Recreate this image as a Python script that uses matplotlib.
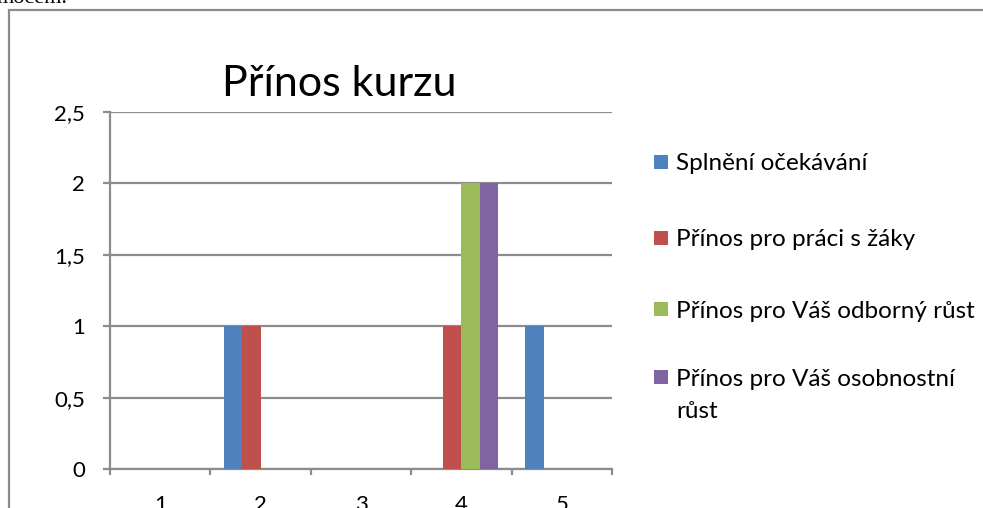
import matplotlib
matplotlib.use("Agg")
import matplotlib.pyplot as plt
import numpy as np
from matplotlib.patches import Rectangle

categories = ["1", "2", "3", "4", "5"]
series_names = ["Splnění očekávání", "Přínos pro práci s žáky",
                "Přínos pro Váš odborný růst", "Přínos pro Váš osobnostní\nrůst"]
s_splneni = [0, 1, 0, 0, 1]
s_prace = [0, 1, 0, 1, 0]
s_odborny = [0, 0, 0, 2, 0]
s_osobnostni = [0, 0, 0, 2, 0]
colors = ["#4F81BD", "#C0504D", "#9BBB59", "#8064A2"]
y_ticks = [0, 0.5, 1, 1.5, 2, 2.5]
y_labels = ["0", "0,5", "1", "1,5", "2", "2,5"]
title = "Přínos kurzu"

W, H = 983, 508
FONT = "Lato"
plt.rcParams['font.family'] = [FONT, 'DejaVu Sans']

fig = plt.figure(figsize=(W / 100, H / 100), dpi=100)

def fx(x):
    return x / W

def fy(y):
    return 1 - y / H

# chart frame
fig.patches.append(Rectangle((fx(9), fy(600)), 2, fy(10) - fy(600), transform=fig.transFigure,
                             fill=False, edgecolor="#8c8c8c", linewidth=1.6))
# cropped text above
fig.text(fx(-3), fy(3), "mocem.", family="Liberation Serif", fontsize=16, va="baseline", ha="left")

ax = fig.add_axes([fx(110), fy(469), fx(612) - fx(110), fy(112) - fy(469)])
series = [s_splneni, s_prace, s_odborny, s_osobnostni]
x = np.arange(len(categories))
w = 1 / 5.5
for i, (vals, c) in enumerate(zip(series, colors)):
    ax.bar(x + (i - 1.5) * w, vals, width=w, color=c, edgecolor="none", zorder=3)

ax.set_xlim(-0.5, len(categories) - 0.5)
ax.set_ylim(0, 2.5)
ax.set_yticks(y_ticks)
ax.set_yticklabels(y_labels)
ax.yaxis.grid(True, color="#8c8c8c", linewidth=1.6, zorder=1)
for s in ["top", "right"]:
    ax.spines[s].set_visible(False)
for s in ["left", "bottom"]:
    ax.spines[s].set_color("#8c8c8c")
    ax.spines[s].set_linewidth(1.6)
ax.set_xticks(np.arange(len(categories) + 1) - 0.5)
ax.set_xticklabels([])
ax.set_xticks(x, minor=True)
ax.set_xticklabels(categories, minor=True)
ax.tick_params(axis="x", which="major", length=4.5, width=1.6, color="#8c8c8c", direction="out")
ax.tick_params(axis="x", which="minor", length=0, pad=19, labelsize=16)
ax.tick_params(axis="y", length=5, width=1.6, color="#8c8c8c", pad=13, labelsize=16)

fig.text(fx(339), fy(96), title, fontsize=31, ha="center", va="baseline")

# legend
rows_y = [162, 238, 309, 377]
for yy, name, c in zip(rows_y, series_names, colors):
    fig.patches.append(Rectangle((fx(654), fy(yy + 7)), fx(14), fy(0) - fy(14), transform=fig.transFigure,
                                 facecolor=c, edgecolor="none"))
    for k, line in enumerate(name.split("\n")):
        fig.text(fx(676), fy(yy + 33 * k), line, fontsize=17.5, ha="left", va="center_baseline")

fig.savefig("out.png", dpi=100)
